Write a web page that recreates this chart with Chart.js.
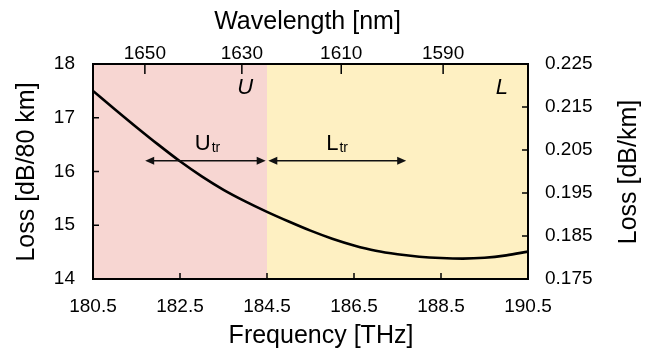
<!DOCTYPE html>
<html>
<head>
<meta charset="utf-8">
<script src="https://cdn.jsdelivr.net/npm/chart.js@4/dist/chart.umd.min.js"></script>
<style>
  html, body { margin: 0; padding: 0; background: #fff; }
  #wrap { width: 668px; height: 354px; }
</style>
</head>
<body>
<div id="wrap"><canvas id="loss-chart" width="668" height="354"></canvas></div>
<script>
// ── Data ────────────────────────────────────────────────────────────────────
const freq = [180.5, 181.0, 181.5, 182.0, 182.5, 183.0, 183.5, 184.0, 184.5, 185.0, 185.5,
              186.0, 186.5, 187.0, 187.5, 188.0, 188.5, 189.0, 189.5, 190.0, 190.5];
const loss = [17.50, 17.16, 16.825, 16.50, 16.19, 15.91, 15.66, 15.445, 15.25, 15.07, 14.90,
              14.75, 14.625, 14.525, 14.46, 14.415, 14.39, 14.38, 14.395, 14.44, 14.51];

const freqTicks       = [180.5, 182.5, 184.5, 186.5, 188.5, 190.5];
const lossTicks       = [14, 15, 16, 17, 18];
const lossKmTicks     = [0.175, 0.185, 0.195, 0.205, 0.215, 0.225];
const wavelengthTicks = [1650, 1630, 1610, 1590];

const bandEdges   = [180.5, 184.5, 190.5];   // U band | L band
const bandNames   = ['U', 'L'];
const bandLabelAt = [184.0, 189.9];
const bandLabelLevel = 17.44;

const transferNames   = ['U', 'L'];
const transferSpans   = [[181.7, 184.47], [184.53, 187.7]];
const transferLabelAt = [183.12, 186.1];
const transferLevel   = 16.2;
const transferLabelLevel = 16.4;

// ── Helpers ─────────────────────────────────────────────────────────────────
const C_NM_THZ = 299792.458;
const FONT     = "'Liberation Sans', Arial, sans-serif";
const INK      = '#000';
const PINK     = '#F7D6D2';
const YELLOW   = '#FEF0C2';

const setTicks = list => scale => { scale.ticks = list.map(v => ({ value: v })); };
const fixSize  = (key, px) => scale => { scale[key] = px; };

// background bands
const bandsPlugin = {
    id: 'bands',
    beforeDraw(chart) {
        const { ctx, chartArea: a, scales: { x } } = chart;
        const colors = [PINK, YELLOW];
        ctx.save();
        for (let i = 0; i < bandEdges.length - 1; i++) {
            const x0 = x.getPixelForValue(bandEdges[i]);
            const x1 = x.getPixelForValue(bandEdges[i + 1]);
            ctx.fillStyle = colors[i];
            ctx.fillRect(x0, a.top, x1 - x0, a.bottom - a.top);
        }
        ctx.restore();
    },
};

function arrowHead(ctx, xTip, y, dir) {
    ctx.beginPath();
    ctx.moveTo(xTip, y);
    ctx.lineTo(xTip - dir * 9, y - 4);
    ctx.lineTo(xTip - dir * 9, y + 4);
    ctx.closePath();
    ctx.fill();
}

function subLabel(ctx, main, sub, cx, baseY) {
    ctx.font = `22px ${FONT}`;
    const w1 = ctx.measureText(main).width;
    ctx.font = `14px ${FONT}`;
    const w2 = ctx.measureText(sub).width;
    const x0 = cx - (w1 + w2) / 2;
    ctx.textAlign = 'left';
    ctx.textBaseline = 'alphabetic';
    ctx.font = `22px ${FONT}`;
    ctx.fillText(main, x0, baseY);
    ctx.font = `14px ${FONT}`;
    ctx.fillText(sub, x0 + w1 + 1, baseY + 2);
}

// ticks inward, annotations, axis titles
const decorPlugin = {
    id: 'decor',
    afterDraw(chart) {
        const { ctx, chartArea: a, scales } = chart;
        const { x, x2, y, y2 } = scales;
        ctx.save();
        ctx.strokeStyle = INK;
        ctx.lineWidth = 1.5;

        // inward tick marks
        ctx.beginPath();
        freqTicks.slice(1, -1).forEach(v => {
            const px = x.getPixelForValue(v);
            ctx.moveTo(px, a.bottom); ctx.lineTo(px, a.bottom - 6);
        });
        wavelengthTicks.forEach(w => {
            const px = x2.getPixelForValue(C_NM_THZ / w);
            ctx.moveTo(px, a.top); ctx.lineTo(px, a.top + 10);
        });
        lossTicks.slice(1, -1).forEach(v => {
            const py = y.getPixelForValue(v);
            ctx.moveTo(a.left, py); ctx.lineTo(a.left + 6, py);
        });
        lossKmTicks.slice(1, -1).forEach(v => {
            const py = y2.getPixelForValue(v);
            ctx.moveTo(a.right, py); ctx.lineTo(a.right - 6, py);
        });
        ctx.stroke();

        // transfer arrows
        ctx.fillStyle = '#111';
        ctx.strokeStyle = '#111';
        ctx.lineWidth = 1.5;
        const ay = y.getPixelForValue(transferLevel);
        transferSpans.forEach(([f0, f1]) => {
            const p0 = x.getPixelForValue(f0);
            const p1 = x.getPixelForValue(f1);
            ctx.beginPath();
            ctx.moveTo(p0 + 4, ay); ctx.lineTo(p1 - 4, ay);
            ctx.stroke();
            arrowHead(ctx, p0, ay, -1);
            arrowHead(ctx, p1, ay, 1);
        });

        ctx.fillStyle = INK;
        const ly = y.getPixelForValue(transferLabelLevel);
        transferNames.forEach((n, i) => {
            subLabel(ctx, n, 'tr', x.getPixelForValue(transferLabelAt[i]), ly);
        });

        // band names
        ctx.font = `italic 22px ${FONT}`;
        ctx.textAlign = 'center';
        ctx.textBaseline = 'alphabetic';
        const by = y.getPixelForValue(bandLabelLevel);
        bandNames.forEach((n, i) => ctx.fillText(n, x.getPixelForValue(bandLabelAt[i]), by));

        // axis titles
        ctx.font = `25px ${FONT}`;
        ctx.fillText('Wavelength [nm]', 307.5, 28.5);
        ctx.fillText('Frequency [THz]', 321, 342.5);

        ctx.translate(34, 172);
        ctx.rotate(-Math.PI / 2);
        ctx.fillText('Loss [dB/80 km]', 0, 0);
        ctx.setTransform(1, 0, 0, 1, 0, 0);
        ctx.translate(636, 172);
        ctx.rotate(-Math.PI / 2);
        ctx.fillText('Loss [dB/km]', 0, 0);
        ctx.restore();
    },
};

// ── Chart ───────────────────────────────────────────────────────────────────
const tickFont = { family: FONT, size: 19 };
const border   = { display: true, color: INK, width: 2 };
const noGrid   = { display: false, drawTicks: false };

new Chart(document.getElementById('loss-chart'), {
    type: 'line',
    data: {
        datasets: [{
            data: freq.map((f, i) => ({ x: f, y: loss[i] })),
            borderColor: INK,
            borderWidth: 2.6,
            pointRadius: 0,
            cubicInterpolationMode: 'monotone',
            fill: false,
            xAxisID: 'x',
            yAxisID: 'y',
        }],
    },
    options: {
        responsive: false,
        animation: false,
        events: [],
        layout: { padding: 0 },
        plugins: { legend: { display: false }, tooltip: { enabled: false } },
        scales: {
            x: {
                type: 'linear', position: 'bottom', min: 180.5, max: 190.5,
                afterBuildTicks: setTicks(freqTicks),
                afterFit: fixSize('height', 75),
                grid: noGrid, border,
                ticks: { font: tickFont, color: INK, padding: 16, maxRotation: 0, autoSkip: false,
                         callback: v => v.toFixed(1) },
            },
            x2: {
                type: 'linear', position: 'top', min: 180.5, max: 190.5,
                afterBuildTicks: scale => { scale.ticks = wavelengthTicks.map(w => ({ value: C_NM_THZ / w })); },
                afterFit: fixSize('height', 64),
                grid: noGrid, border,
                ticks: { font: tickFont, color: INK, padding: -1, maxRotation: 0, autoSkip: false,
                         callback: (v, i) => String(wavelengthTicks[i]) },
            },
            y: {
                type: 'linear', position: 'left', min: 14, max: 18,
                afterBuildTicks: setTicks(lossTicks),
                afterFit: fixSize('width', 93),
                grid: noGrid, border,
                ticks: { font: tickFont, color: INK, padding: 18, callback: v => String(v) },
            },
            y2: {
                type: 'linear', position: 'right', min: 14 / 80, max: 18 / 80,
                afterBuildTicks: setTicks(lossKmTicks),
                afterFit: fixSize('width', 140),
                grid: noGrid, border,
                ticks: { font: tickFont, color: INK, padding: 17, callback: v => v.toFixed(3) },
            },
        },
    },
    plugins: [bandsPlugin, decorPlugin],
});
</script>
</body>
</html>
